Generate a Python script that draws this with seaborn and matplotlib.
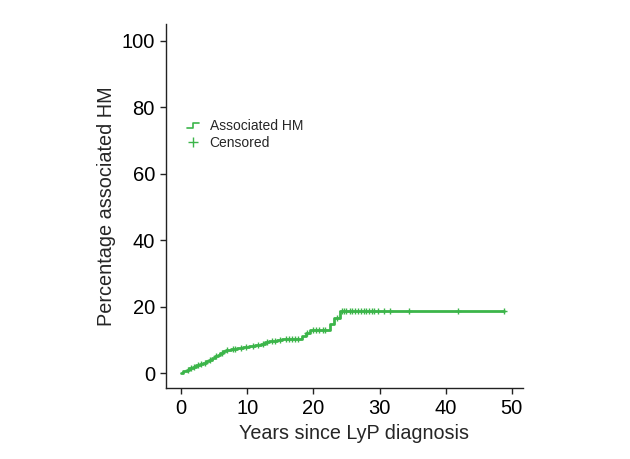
import numpy as np
import pandas as pd
import seaborn as sns
import matplotlib
matplotlib.use("Agg")
import matplotlib.pyplot as plt
from matplotlib.lines import Line2D
from matplotlib.legend_handler import HandlerBase

# cumulative incidence of associated HM
event_years = [0.0, 0.3, 0.8, 1.2, 1.8, 2.3, 2.8, 3.3, 3.8, 4.2, 4.7, 5.1, 5.5, 5.9,
               6.3, 6.7, 7.5, 8.5, 9.4, 10.3, 11.2, 12.0, 12.6, 13.3, 14.5, 15.3,
               18.3, 18.8, 19.5, 22.5, 23.1, 24.0]
event_pct = [0.0, 0.5, 1.0, 1.4, 1.9, 2.3, 2.7, 3.1, 3.6, 4.0, 4.5, 5.0, 5.5, 6.0,
             6.5, 7.0, 7.2, 7.5, 7.8, 8.1, 8.4, 8.8, 9.2, 9.6, 9.9, 10.3,
             11.3, 12.2, 12.9, 14.8, 16.5, 18.6]
censor_years = [1.0, 1.5, 2.0, 2.6, 3.0, 3.6, 4.4, 5.3, 6.1, 7.0, 7.8, 8.2, 9.0, 9.8,
                10.8, 11.6, 12.3, 13.0, 13.8, 14.2, 15.0, 15.8, 16.3, 16.8, 17.2,
                17.7, 19.0, 19.9, 20.4, 20.9, 21.4, 21.8, 23.5, 24.3, 24.6, 25.0,
                25.5, 25.9, 26.3, 26.8, 27.2, 27.6, 28.0, 28.4, 28.8, 29.2, 29.7,
                30.7, 31.6, 34.4, 41.8, 48.8]

green = "#3cb54a"

# step curve runs until the last censored subject
curve = pd.DataFrame({"years": event_years + [max(censor_years)],
                      "pct": event_pct + [event_pct[-1]]})
idx = np.searchsorted(event_years, censor_years, side="right") - 1
cens = pd.DataFrame({"years": censor_years, "pct": np.array(event_pct)[idx]})


class StepHandler(HandlerBase):
    # little step glyph for the legend
    def create_artists(self, legend, orig_handle, xdescent, ydescent,
                       width, height, fontsize, trans):
        x0, x1 = -xdescent, -xdescent + width
        xm = x0 + width * 0.45
        y0, y1 = -ydescent + height * 0.2, -ydescent + height * 0.7
        ln = Line2D([x0, xm, xm, x1], [y0, y0, y1, y1], color=orig_handle.get_color(),
                    linewidth=orig_handle.get_linewidth(), transform=trans)
        return [ln]


sns.set_style("ticks")
plt.rcParams["font.family"] = ["Liberation Sans", "DejaVu Sans"]

fig = plt.figure(figsize=(6.3, 4.59), dpi=100)
ax = fig.add_axes([0.2635, 0.1547, 0.5667, 0.793])

sns.lineplot(data=curve, x="years", y="pct", ax=ax, color=green, linewidth=2.0,
             estimator=None, sort=False, drawstyle="steps-post")
sns.scatterplot(data=cens, x="years", y="pct", ax=ax, color=green, marker="+",
                s=18, linewidth=1.0, zorder=3)

ax.set_xlim(-2.3, 51.7)
ax.set_ylim(-4.5, 105.1)
ax.set_xticks([0, 10, 20, 30, 40, 50])
ax.set_yticks([0, 20, 40, 60, 80, 100])
ax.tick_params(labelsize=14.5, length=4.5, width=1, colors="#222222", labelcolor="black")
for s in ["left", "bottom"]:
    ax.spines[s].set_linewidth(1)
    ax.spines[s].set_color("#222222")
sns.despine(ax=ax)

ax.set_xlabel("Years since LyP diagnosis", fontsize=14.2)
ax.set_ylabel("Percentage associated HM", fontsize=14.3)
ax.xaxis.set_label_coords(0.527, -0.098)

step_h = Line2D([0], [0], color=green, linewidth=1.2)
cens_h = Line2D([0], [0], color=green, marker="+", linestyle="none", markersize=7)
ax.legend([step_h, cens_h], ["Associated HM", "Censored"], loc="upper left",
          bbox_to_anchor=(0.025, 0.774), frameon=False, fontsize=10,
          handlelength=0.85, handletextpad=0.75, labelspacing=0.25,
          handler_map={step_h: StepHandler()})

fig.savefig("out.png", dpi=100)
